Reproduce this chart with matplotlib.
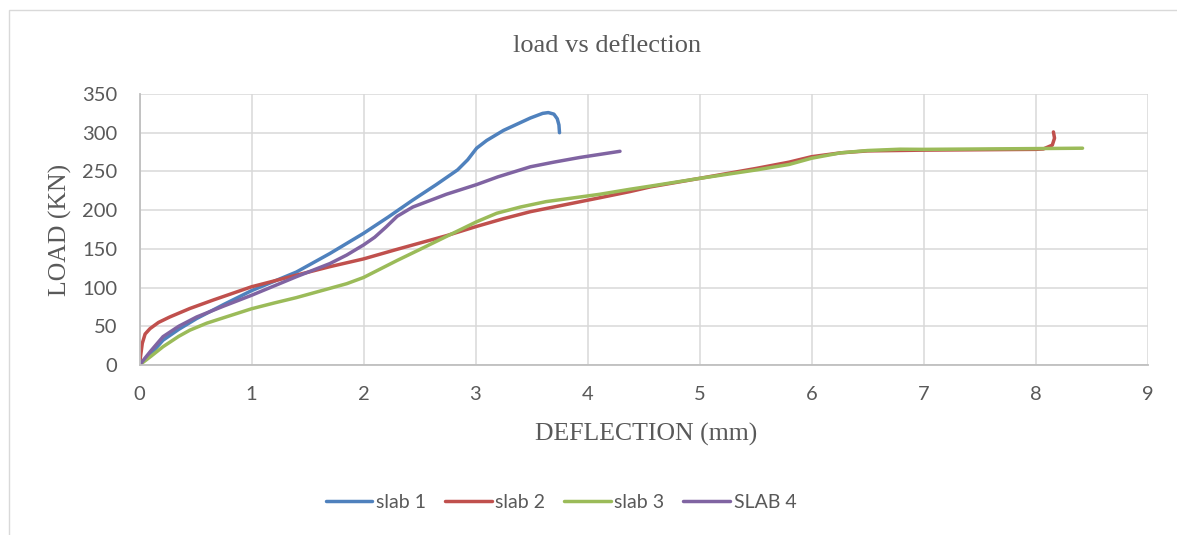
import numpy as np
import matplotlib
matplotlib.use('Agg')
import matplotlib.pyplot as plt
from matplotlib.patches import Rectangle

# deflection (mm) / load (kN)
slab1_x = [0, 0.1, 0.21, 0.35, 0.51, 0.75, 1.0, 1.2, 1.4, 1.7, 2.0, 2.22, 2.44, 2.65, 2.84, 2.93,
           3.01, 3.1, 3.25, 3.49, 3.6, 3.65, 3.7, 3.73, 3.745, 3.75]
slab1_y = [0, 14, 32, 46, 60, 78, 96, 108, 120, 144, 170, 191, 213, 233, 252, 265,
           280, 290, 303, 319, 325, 326, 324, 318, 310, 300]

slab2_x = [0, 0.01, 0.025, 0.05, 0.094, 0.17, 0.27, 0.45, 0.66, 1.0, 1.4, 1.7, 2.0, 2.29, 2.74,
           3.01, 3.25, 3.49, 3.8, 4.11, 4.38, 4.56, 5.0, 5.51, 5.8, 6.0, 6.26, 6.5, 7.0, 7.5,
           8.0, 8.07, 8.15, 8.17, 8.16]
slab2_y = [0, 12, 28, 40, 47, 55, 62, 73, 84, 101, 116, 127, 137, 149, 167,
           179, 189, 198, 207, 216, 224, 230, 241, 254, 262, 269, 274, 276.5, 277.5, 278,
           278.5, 279, 284, 293, 301]

slab3_x = [0, 0.1, 0.21, 0.35, 0.45, 0.6, 0.75, 1.0, 1.2, 1.4, 1.7, 1.85, 2.0, 2.15, 2.3, 2.5,
           2.74, 3.01, 3.19, 3.4, 3.63, 4.11, 4.38, 4.56, 5.0, 5.51, 5.8, 6.0, 6.26, 6.5, 6.79,
           7.0, 7.5, 8.0, 8.42]
slab3_y = [0, 11, 23.6, 37, 45, 54, 61, 72.6, 80, 87, 99, 105, 113, 124, 135, 149,
           166, 185, 196, 204, 211, 220.5, 227, 231, 241, 252, 259, 267, 274, 277, 278.7,
           278.5, 279, 279.5, 280]

slab4_x = [0, 0.1, 0.21, 0.35, 0.51, 0.75, 1.0, 1.4, 1.7, 1.85, 2.0, 2.1, 2.2, 2.3, 2.44,
           2.74, 3.01, 3.2, 3.49, 3.7, 3.93, 4.29]
slab4_y = [0, 18, 36.6, 50, 62, 76, 90, 114, 131, 142, 155, 165, 178, 192, 204,
           220.5, 233, 243, 256, 262, 268, 276]

series = [
    ('slab 1', slab1_x, slab1_y, '#4F81BD'),
    ('slab 2', slab2_x, slab2_y, '#C0504D'),
    ('slab 3', slab3_x, slab3_y, '#9BBB59'),
    ('SLAB 4', slab4_x, slab4_y, '#8064A2'),
]

W, H = 1177, 535
fig = plt.figure(figsize=(W / 100, H / 100), dpi=100)
ax = fig.add_axes([139.5 / W, 1 - 365 / H, (1147.5 - 139.5) / W, (365 - 94) / H])

for name, x, y, c in series:
    ax.plot(x, y, color=c, lw=2.5, label=name, solid_joinstyle='round', solid_capstyle='round')

ax.set_xlim(0, 9)
ax.set_ylim(0, 350)
ax.set_xticks(range(0, 10))
ax.set_yticks(range(0, 351, 50))
ax.grid(True, color='#d9d9d9', lw=1.1)
ax.set_axisbelow(True)
for s in ['top', 'right']:
    ax.spines[s].set_visible(False)
for s in ['left', 'bottom']:
    ax.spines[s].set_color('#bfbfbf')
    ax.spines[s].set_linewidth(1.3)
ax.tick_params(length=0, labelcolor='#595959', labelsize=14.5)
ax.tick_params(axis='y', pad=16)
ax.tick_params(axis='x', pad=15)
for lab in ax.get_xticklabels() + ax.get_yticklabels():
    lab.set_family('Lato')

serif = 'Liberation Serif'
fig.text(607 / W, 1 - 46 / H, 'load vs deflection', ha='center', va='center',
         family=serif, fontsize=19, color='#595959')
fig.text(646 / W, 1 - 434 / H, 'DEFLECTION (mm)', ha='center', va='center',
         family=serif, fontsize=18.5, color='#595959')
fig.text(60 / W, 1 - 229.5 / H, 'LOAD (KN)', ha='center', va='center', rotation=90,
         family=serif, fontsize=18.5, color='#595959')

leg = fig.legend(loc='center', bbox_to_anchor=(561 / W, 1 - 502 / H), ncol=4, frameon=False,
                 prop={'family': 'Lato', 'size': 14}, handlelength=2.4, handletextpad=0.2,
                 columnspacing=0.95)
for t in leg.get_texts():
    t.set_color('#595959')

fig.patches.append(Rectangle((8.5 / W, -0.1), 1.2, 1.1 - 9.5 / H, transform=fig.transFigure,
                             fill=False, edgecolor='#d9d9d9', lw=1.0))

fig.savefig('out.png', dpi=100)
